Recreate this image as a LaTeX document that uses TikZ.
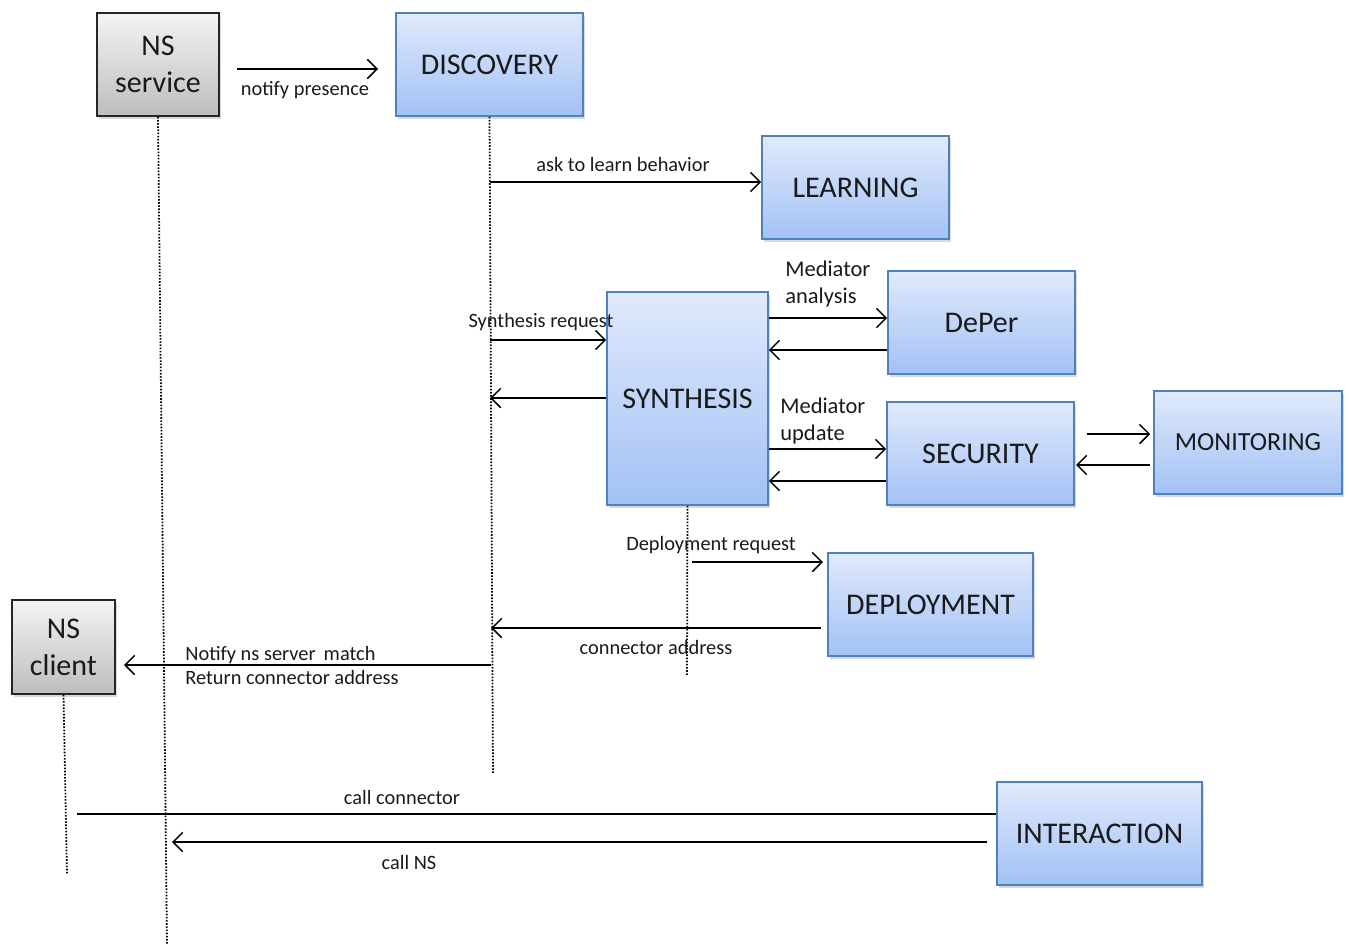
\documentclass[tikz,border=0pt]{standalone}
\usepackage{fontspec}
\setmainfont{Carlito}
\usetikzlibrary{arrows.meta,shadows}
\definecolor{bluetop}{HTML}{E0EAFC}
\definecolor{bluebot}{HTML}{A3C1F5}
\definecolor{blueedge}{HTML}{4F81BD}
\definecolor{graytop}{HTML}{F4F4F4}
\definecolor{graybot}{HTML}{BDBDBD}
\definecolor{txt}{HTML}{1A1A1A}
\tikzset{
  box/.style={draw=blueedge, line width=0.9pt, top color=bluetop, bottom color=bluebot,
    inner sep=0pt, align=center, text=txt, font=\fontsize{17.1}{21}\selectfont,
    drop shadow={opacity=0.3, shadow xshift=1.2pt, shadow yshift=-1.5pt}},
  actor/.style={draw=black!85, line width=0.9pt, top color=graytop, bottom color=graybot,
    inner sep=0pt, align=center, text=txt, font=\fontsize{17.1}{21}\selectfont,
    drop shadow={opacity=0.3, shadow xshift=1.2pt, shadow yshift=-1.5pt}},
  arr/.style={line width=0.85pt, -{Straight Barb[length=5.5pt,width=11pt,line width=0.85pt]}},
  plain/.style={line width=0.85pt},
  life/.style={line width=1pt, dash pattern=on 0.9pt off 0.9pt},
  lbl/.style={font=\fontsize{11.6}{14.2}\selectfont, text=txt, inner sep=0pt},
  mlbl/.style={font=\fontsize{12.8}{15.4}\selectfont, text=txt, inner sep=0pt, align=left}
}
\begin{document}
\begin{tikzpicture}[x=0.02cm,y=-0.02cm]
\useasboundingbox (0,0) rectangle (1349,947);
% boxes
\node[actor, minimum width=2.44cm, minimum height=2.06cm] (nss) at (158,64.5) {NS\\service};
\node[box, minimum width=3.74cm, minimum height=2.06cm] (disc) at (489.5,64.5) {DISCOVERY};
\node[box, minimum width=3.74cm, minimum height=2.06cm] (learn) at (855.5,187.5) {LEARNING};
\node[box, minimum width=3.22cm, minimum height=4.26cm] (syn) at (687.5,398.5) {SYNTHESIS};
\node[box, minimum width=3.74cm, minimum height=2.06cm] (deper) at (981.5,322.5) {DePer};
\node[box, minimum width=3.74cm, minimum height=2.06cm] (sec) at (980.5,453.5) {SECURITY};
\node[box, minimum width=3.76cm, minimum height=2.06cm, font=\fontsize{14.85}{18}\selectfont] (mon) at (1248,442.5) {MONITORING};
\node[box, minimum width=4.10cm, minimum height=2.06cm] (dep) at (930.5,604.5) {DEPLOYMENT};
\node[actor, minimum width=2.06cm, minimum height=1.88cm] (nsc) at (63.5,647) {NS\\client};
\node[box, minimum width=4.10cm, minimum height=2.06cm] (inter) at (1099.5,833.5) {INTERACTION};
% lifeline ends
\coordinate (nssend) at (167,945);
\coordinate (discend) at (493,773);
\coordinate (synend) at (687,675);
\coordinate (nscend) at (67,875);
\draw[life] (nss.south) -- (nssend);
\draw[life] (disc.south) -- (discend);
\draw[life] (syn.south) -- (synend);
\draw[life] (nsc.south) -- (nscend);
% messages
\coordinate (np1) at (237,69); \coordinate (np2) at (378,69);
\draw[arr] (np1) -- (np2);
\node[lbl] (l1) at (305,90) {notify presence};
\coordinate (al1) at (490,182);
\draw[arr] (al1) -- (learn.west |- al1);
\node[lbl] (l2) at (623,164) {ask to learn behavior};
\coordinate (sr1) at (490,340);
\draw[arr] (sr1) -- (syn.west |- sr1);
\node[lbl] (l3) at (541,322) {Synthesis request};
\coordinate (sb1) at (490,398);
\draw[arr] (syn.west |- sb1) -- (sb1);
\coordinate (ma) at (768,318);
\draw[arr] (syn.east |- ma) -- (deper.west |- ma);
\node[mlbl, anchor=west] (l4) at (785,284) {Mediator\\analysis};
\coordinate (mb) at (768,350);
\draw[arr] (deper.west |- mb) -- (syn.east |- mb);
\coordinate (mu) at (768,449);
\draw[arr] (syn.east |- mu) -- (sec.west |- mu);
\node[mlbl, anchor=west] (l5) at (780,421) {Mediator\\update};
\coordinate (ub) at (768,481);
\draw[arr] (sec.west |- ub) -- (syn.east |- ub);
\coordinate (m1) at (1087,434);
\draw[arr] (m1) -- ([xshift=-0.06cm]mon.west |- m1);
\coordinate (m2) at (1076,465);
\draw[arr] ([xshift=-0.06cm]mon.west |- m2) -- (m2);
\coordinate (d1) at (692,562); \coordinate (d2) at (823,562);
\draw[arr] (d1) -- (d2);
\node[lbl] (l6) at (711,545) {Deployment request};
\coordinate (ca1) at (821,628); \coordinate (ca2) at (491,628);
\draw[arr] (ca1) -- (ca2);
\node[lbl] (l7) at (656,647) {connector address};
\coordinate (nm1) at (491,665); \coordinate (nm2) at (124,665);
\draw[arr] (nm1) -- (nm2);
\node[lbl, anchor=west, align=left] (l8) at (185,665.5) {Notify ns server\ \,match\\Return connector address};
\coordinate (cc1) at (77,814);
\draw[plain] (cc1) -- (inter.west |- cc1);
\node[lbl] (l9) at (402,797) {call connector};
\coordinate (cn1) at (987,842); \coordinate (cn2) at (172,842);
\draw[arr] (cn1) -- (cn2);
\node[lbl] (l10) at (409,862) {call NS};
\end{tikzpicture}
\end{document}
